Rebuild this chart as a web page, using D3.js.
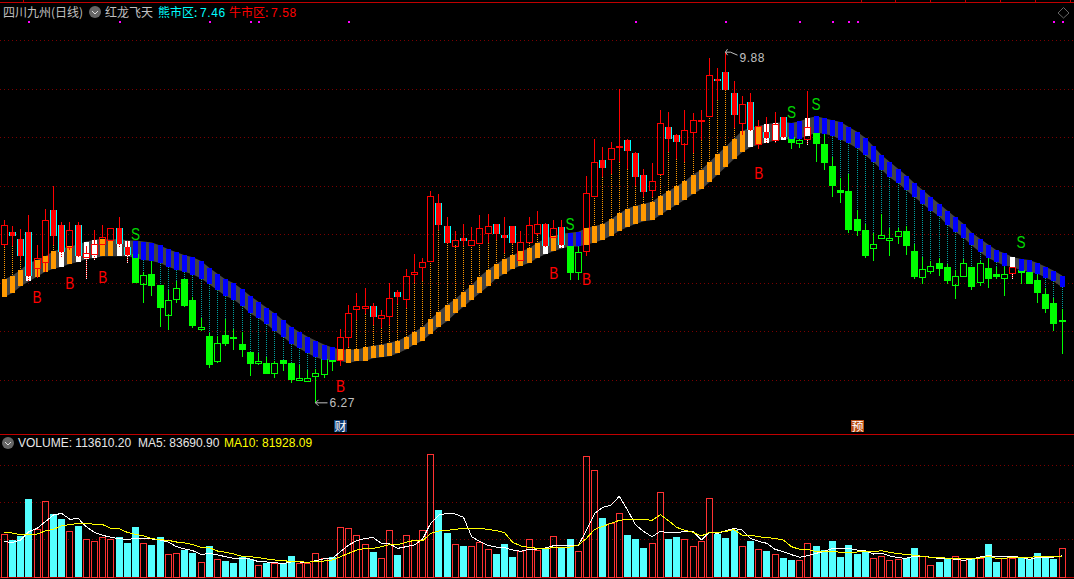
<!DOCTYPE html>
<html><head><meta charset="utf-8">
<style>html,body{margin:0;padding:0;background:#000;overflow:hidden}svg{display:block}text{font-family:"Liberation Sans",Arial,sans-serif}.cjk{font-family:"Noto Sans CJK SC",sans-serif}</style>
<script src="https://cdnjs.cloudflare.com/ajax/libs/d3/7.8.5/d3.min.js"></script>
</head><body><svg id="c" width="1074" height="579"></svg>
<script>
const stockName = "四川九州(日线)", indicatorName = "红龙飞天";
const open = [7.90,8.03,7.96,8.03,7.66,7.72,8.26,8.10,7.87,8.10,
7.77,7.80,7.91,7.95,8.07,7.87,7.80,7.50,7.60,7.48,
7.18,7.34,7.54,7.33,7.03,6.96,6.70,6.97,6.95,6.88,
6.79,6.68,6.68,6.58,6.71,6.68,6.51,6.50,6.55,6.57,
6.71,6.71,6.95,7.24,7.25,7.27,7.14,7.16,7.41,7.34,
7.60,7.67,7.73,8.33,8.09,7.89,7.97,7.90,7.92,8.02,
8.11,8.00,8.09,7.74,7.93,8.02,8.11,7.98,8.08,7.88,
7.61,7.83,8.40,8.77,8.78,8.90,8.98,8.84,8.62,8.46,
8.62,9.11,9.03,8.94,9.06,9.17,9.22,9.60,9.68,9.46,
9.15,9.37,8.93,9.06,8.98,9.21,9.01,8.95,8.99,9.05,
8.93,8.71,8.46,8.45,8.16,8.05,7.86,7.97,7.95,7.99,
8.04,7.83,7.57,7.63,7.71,7.67,7.49,7.58,7.67,7.51,
7.66,7.60,7.56,7.61,7.64,7.62,7.53,7.39,7.30,7.11];
const close = [8.10,7.99,7.78,7.58,7.76,8.15,7.99,7.82,8.05,7.78,
7.81,7.90,7.98,8.07,7.91,7.79,7.50,7.59,7.47,7.25,
7.33,7.45,7.27,7.06,7.05,6.66,6.89,6.88,6.93,6.81,
6.67,6.70,6.57,6.68,6.67,6.51,6.53,6.53,6.58,6.72,
6.70,6.95,7.20,7.27,7.27,7.15,7.17,7.35,7.36,7.58,
7.62,7.72,8.40,8.10,7.92,7.95,7.94,7.95,8.07,8.09,
8.01,7.97,7.92,7.93,8.10,8.11,7.88,8.07,7.90,7.61,
7.82,8.43,8.75,8.69,8.89,8.91,8.86,8.59,8.44,8.55,
9.15,8.99,8.96,9.08,9.18,9.18,9.64,9.58,9.49,9.23,
9.35,9.08,9.12,9.00,9.14,9.01,8.95,8.98,9.11,8.93,
8.74,8.50,8.43,8.05,8.04,7.78,7.90,8.00,7.97,8.04,
7.88,7.57,7.65,7.68,7.65,7.52,7.58,7.71,7.46,7.71,
7.55,7.57,7.60,7.67,7.61,7.49,7.40,7.24,7.08,7.12];
const high = [8.15,8.09,8.06,8.20,7.90,8.27,8.50,8.13,8.13,8.13,
7.88,8.05,8.10,8.07,8.18,7.94,7.80,7.62,7.73,7.48,
7.43,7.52,7.54,7.36,7.14,6.99,6.96,7.13,7.03,7.00,
6.79,6.78,6.74,6.70,6.71,6.68,6.66,6.61,6.62,6.75,
6.76,7.03,7.28,7.40,7.45,7.30,7.23,7.50,7.43,7.65,
7.80,7.76,8.45,8.42,8.18,8.04,8.11,8.08,8.20,8.21,
8.11,8.18,8.09,8.04,8.18,8.24,8.12,8.15,8.15,7.90,
7.87,8.61,8.99,8.90,8.96,9.50,8.99,8.85,8.68,8.74,
9.28,9.26,9.04,9.28,9.25,9.28,9.82,9.72,9.88,9.58,
9.43,9.46,9.18,9.21,9.26,9.21,9.01,8.99,9.48,9.05,
9.04,8.80,8.58,8.63,8.26,8.11,8.02,8.21,8.07,8.07,
8.09,7.91,7.77,7.73,7.76,7.70,7.64,7.75,7.67,7.73,
7.76,7.67,7.67,7.67,7.66,7.62,7.59,7.45,7.35,7.24];
const low = [7.87,7.88,7.74,7.52,7.56,7.62,7.89,7.76,7.84,7.76,
7.55,7.74,7.90,7.95,7.86,7.71,7.50,7.30,7.37,7.05,
7.02,7.30,7.26,7.04,7.01,6.63,6.68,6.86,6.81,6.74,
6.55,6.66,6.57,6.53,6.60,6.47,6.49,6.48,6.27,6.53,
6.60,6.65,6.85,7.12,7.18,7.07,7.04,7.07,7.29,7.25,
7.50,7.52,7.73,8.05,7.92,7.89,7.88,7.90,7.92,7.92,
7.95,7.81,7.91,7.74,7.92,8.00,7.87,7.97,7.86,7.53,
7.53,7.78,8.40,8.60,8.63,8.75,8.68,8.50,8.39,8.39,
8.62,8.85,8.78,8.75,8.84,8.98,9.22,9.39,9.49,9.10,
9.03,9.06,8.88,8.95,8.95,9.00,8.88,8.89,8.92,8.75,
8.67,8.39,8.33,8.02,7.99,7.76,7.73,7.97,7.78,7.91,
7.79,7.54,7.49,7.60,7.58,7.49,7.34,7.58,7.43,7.47,
7.45,7.55,7.37,7.55,7.49,7.49,7.30,7.20,7.01,6.77];
const bandTop = [7.54,7.58,7.64,7.71,7.74,7.78,7.83,7.86,7.88,7.90,
7.93,7.95,7.96,7.95,7.96,7.94,7.94,7.93,7.92,7.89,
7.85,7.82,7.79,7.77,7.73,7.66,7.60,7.54,7.50,7.44,
7.37,7.31,7.25,7.19,7.12,7.05,7.00,6.95,6.91,6.87,
6.84,6.82,6.82,6.82,6.84,6.86,6.87,6.89,6.91,6.95,
7.00,7.05,7.13,7.21,7.28,7.34,7.41,7.48,7.57,7.64,
7.70,7.75,7.79,7.83,7.86,7.92,7.96,7.99,8.01,8.02,
8.03,8.07,8.09,8.11,8.16,8.22,8.27,8.30,8.32,8.34,
8.40,8.45,8.50,8.55,8.62,8.67,8.75,8.83,8.91,8.99,
9.07,9.10,9.12,9.14,9.15,9.16,9.15,9.17,9.20,9.22,
9.20,9.18,9.16,9.11,9.06,9.00,8.91,8.82,8.75,8.68,
8.61,8.53,8.46,8.39,8.32,8.25,8.18,8.11,8.02,7.96,
7.90,7.84,7.81,7.77,7.75,7.74,7.71,7.67,7.63,7.58];
const bandBottom = [7.36,7.40,7.47,7.52,7.57,7.62,7.65,7.67,7.70,7.72,
7.75,7.76,7.78,7.78,7.78,7.78,7.76,7.74,7.73,7.71,
7.67,7.64,7.62,7.59,7.55,7.49,7.43,7.37,7.33,7.27,
7.19,7.14,7.08,7.01,6.95,6.88,6.83,6.78,6.74,6.71,
6.71,6.70,6.68,6.70,6.70,6.73,6.74,6.75,6.78,6.82,
6.87,6.91,6.98,7.05,7.11,7.19,7.26,7.33,7.40,7.47,
7.55,7.60,7.65,7.68,7.71,7.76,7.80,7.83,7.86,7.88,
7.88,7.90,7.92,7.95,7.99,8.04,8.08,8.11,8.14,8.15,
8.20,8.26,8.31,8.36,8.42,8.47,8.54,8.62,8.70,8.78,
8.85,8.90,8.93,8.95,8.97,8.98,8.99,8.99,9.02,9.05,
9.04,9.02,8.98,8.94,8.89,8.82,8.75,8.67,8.59,8.53,
8.46,8.39,8.32,8.25,8.19,8.10,8.03,7.97,7.89,7.82,
7.76,7.72,7.68,7.67,7.63,7.62,7.60,7.56,7.52,7.46];
// thousands of lots
const volume = [168.8,146.4,162.2,308.6,188.6,299.4,249.3,229.5,180.7,201.8,
149.0,141.1,157.0,150.4,158.3,134.5,197.9,133.2,126.6,158.3,
89.7,93.6,106.8,95.0,58.0,122.7,69.9,63.3,55.4,77.8,
69.9,46.2,55.4,54.1,54.1,83.1,56.7,54.1,93.6,73.9,
79.1,196.5,192.6,164.9,129.3,98.9,73.9,184.7,87.1,164.9,
146.4,184.7,485.4,265.1,174.1,129.3,122.7,121.3,139.8,109.5,
91.0,130.6,79.1,102.9,149.0,105.5,109.5,160.9,113.4,150.4,
101.6,477.5,422.1,233.5,212.4,251.9,166.2,150.4,114.8,133.2,
335.0,150.4,158.3,149.0,121.3,141.1,311.3,170.2,154.3,186.0,
121.3,142.5,109.5,102.9,89.7,75.2,67.3,66.0,133.2,122.7,
106.8,142.5,79.1,126.6,91.0,102.9,73.9,81.8,66.0,71.2,
75.2,114.8,81.8,46.2,59.4,71.2,81.8,67.3,71.2,73.9,
130.6,59.4,73.9,76.5,79.1,71.2,95.0,77.8,71.2,113.6102];
const ma5 = [139.8,137.2,146.4,179.4,192.6,218.9,245.3,251.9,228.2,232.1,
199.2,176.7,164.9,157.0,151.7,149.0,151.7,153.0,150.4,146.4,
138.5,120.0,110.8,104.2,88.4,93.6,87.1,80.5,73.9,73.9,
71.2,60.7,59.4,56.7,52.8,59.4,59.4,56.7,64.6,72.5,
73.9,100.2,126.6,143.8,153.0,155.6,133.2,130.6,113.4,120.0,
126.6,149.0,212.4,245.3,251.9,249.3,236.1,159.6,139.8,125.3,
118.7,116.1,106.8,101.6,109.5,110.8,114.8,124.0,125.3,126.6,
124.0,186.0,251.9,275.7,284.9,319.2,265.1,205.8,179.4,159.6,
180.7,175.4,175.4,180.7,179.4,146.4,176.7,172.8,183.3,192.6,
186.0,153.0,141.1,133.2,109.5,100.2,88.4,77.8,84.4,93.6,
101.6,113.4,113.4,113.4,106.8,104.2,91.0,93.6,83.1,76.5,
73.9,83.1,83.1,77.8,73.9,73.9,69.9,66.0,71.2,79.1,
84.4,81.8,81.8,81.8,77.8,69.9,77.8,77.8,79.1,83.6909];
const ma10 = [176.7,174.1,167.5,167.5,170.2,182.0,188.6,203.1,207.1,212.4,
212.4,208.4,207.1,192.6,191.3,176.7,168.8,162.2,151.7,147.7,
145.1,138.5,134.5,127.9,117.4,116.1,102.9,97.6,91.0,81.8,
80.5,76.5,71.2,67.3,66.0,59.4,60.7,58.0,62.0,63.3,
67.3,80.5,93.6,106.8,113.4,113.4,120.0,127.9,127.9,137.2,
145.1,142.5,172.8,182.0,184.7,188.6,192.6,189.9,192.6,188.6,
183.3,175.4,137.2,122.7,117.4,113.4,112.1,117.4,116.1,118.7,
126.6,153.0,188.6,200.5,212.4,224.2,228.2,228.2,228.2,224.2,
246.7,222.9,196.5,184.7,176.7,162.2,176.7,176.7,180.7,187.3,
164.9,164.9,159.6,155.6,153.0,146.4,120.0,109.5,109.5,100.2,
100.2,101.6,97.6,97.6,98.9,100.2,100.2,104.2,97.6,92.3,
89.7,85.7,81.8,77.8,77.8,73.9,73.9,72.5,72.5,75.2,
81.8,73.9,73.9,77.8,77.8,77.8,80.5,80.5,80.5,81.92809];
const bearRanges = [[16,40],[69,70],[96,97],[99,122],[124,129]];
const whiteBars = [3,7,9,10,11,14,15,66,68,91,93,94,95,98,123];
const buySignals = [4,8,12,41,67,71,92], buyLevels = [7.36,7.50,7.57,6.44,7.61,7.55,8.64];
const sellSignals = [16,69,96,99,124], sellLevels = [8.01,8.11,9.27,9.35,7.93];
const eventDots = [3,14,25,30,31,42,77,88,97,101,103,104,128,129];
const notices = [{i:41,t:"财",c:"#0f3c73"},{i:104,t:"预",c:"#b84a10"}];
const priceTicks = [6.5,7,7.5,8,8.5,9,9.5,10], volumeTicks = [149,296,442];
const bearLabel = "熊市区", bullLabel = "牛市区";
const topTicks = [861,895,930,965,1000,1035,1070];

const n = open.length, idx = d3.range(n);
const isBear = i => bearRanges.some(r => i >= r[0] && i <= r[1]);
const x = d3.scaleLinear().domain([0,129]).range([4.3,1062.1]);
const y = d3.scaleLinear().domain([6.5,10]).range([380.5,40.5]);
const yv = d3.scaleLinear().domain([0,500]).range([577,577-500/3.958]);
const cx = i => Math.floor(x(i)) + 0.5;
const svg = d3.select("#c");
const RED = "#ff0000", GREEN = "#00ff00", CYAN = "#00ffff";

svg.append("rect").attr("width",1074).attr("height",579).attr("fill","#000");

// frame
const frame = svg.append("g").attr("stroke","#c00000").attr("shape-rendering","crispEdges");
frame.append("line").attr("x1",0).attr("x2",1074).attr("y1",2.5).attr("y2",2.5);
frame.append("line").attr("x1",0).attr("x2",1074).attr("y1",434.5).attr("y2",434.5);
frame.append("line").attr("x1",0).attr("x2",1074).attr("y1",577.5).attr("y2",577.5);
frame.selectAll(".t").data([23].concat(topTicks)).join("line").attr("x1",d=>d+.5).attr("x2",d=>d+.5).attr("y1",0).attr("y2",2);

// grid
const gridOf = (vals,sc) => svg.append("g").selectAll("line").data(vals).join("line")
  .attr("x1",0).attr("x2",1074).attr("y1",d=>Math.floor(sc(d))+.5).attr("y2",d=>Math.floor(sc(d))+.5)
  .attr("stroke","#7a0000").attr("stroke-dasharray","1,3").attr("shape-rendering","crispEdges");
gridOf(priceTicks,y); gridOf(volumeTicks,yv);

// grey ribbon
svg.append("path").datum(idx).attr("fill","#444444")
  .attr("d",d3.area().x(i=>x(i)).y0(i=>y(bandBottom[i])).y1(i=>y(bandTop[i])));

// dotted links between candles and ribbon
const links = svg.append("g").attr("stroke-dasharray","1,1").attr("shape-rendering","crispEdges");
links.selectAll(".up").data(idx.filter(i=>!isBear(i) && low[i]>bandTop[i])).join("line")
  .attr("x1",cx).attr("x2",cx).attr("y1",i=>y(low[i])).attr("y2",i=>y(bandTop[i])).attr("stroke","#ff9900");
links.selectAll(".dn").data(idx.filter(i=>isBear(i) && high[i]<bandBottom[i])).join("line")
  .attr("x1",cx).attr("x2",cx).attr("y1",i=>y(bandBottom[i])).attr("y2",i=>y(high[i])).attr("stroke","#00a0a0");

function candles(list){
  const g = svg.append("g").attr("shape-rendering","crispEdges");
  const col = i => isBear(i) ? GREEN : RED;
  const top = i => y(Math.max(open[i],close[i])), bot = i => y(Math.min(open[i],close[i]));
  g.selectAll(".hi").data(list).join("line").attr("x1",cx).attr("x2",cx).attr("y1",i=>y(high[i])).attr("y2",top).attr("stroke",col);
  g.selectAll(".lo").data(list).join("line").attr("x1",cx).attr("x2",cx).attr("y1",bot).attr("y2",i=>y(low[i])).attr("stroke",col);
  const ups = list.filter(i=>close[i]>=open[i] && (bot(i)-top(i)>=1.5));
  const flats = list.filter(i=>bot(i)-top(i)<1.5);
  const downs = list.filter(i=>close[i]<open[i] && (bot(i)-top(i)>=1.5));
  g.selectAll(".u").data(ups).join("rect").attr("x",i=>cx(i)-3).attr("width",6)
    .attr("y",i=>Math.round(top(i))+.5).attr("height",i=>Math.max(1,Math.round(bot(i)-top(i))))
    .attr("fill","none").attr("stroke",col);
  g.selectAll(".d").data(downs).join("rect").attr("x",i=>cx(i)-3.5).attr("width",7)
    .attr("y",top).attr("height",i=>bot(i)-top(i)).attr("fill",i=>isBear(i)?GREEN:CYAN);
  g.selectAll(".dc").data(downs.filter(i=>!isBear(i))).join("rect").attr("x",i=>cx(i)-2.5).attr("width",5)
    .attr("y",top).attr("height",i=>bot(i)-top(i)).attr("fill",RED);
  g.selectAll(".f").data(flats).join("rect").attr("x",i=>cx(i)-3.5).attr("width",7)
    .attr("y",i=>top(i)-.5).attr("height",2).attr("fill",col);
}
// green candles go under the ribbon sticks
candles(idx.filter(isBear));
// ribbon sticks
svg.append("g").attr("shape-rendering","crispEdges").selectAll("rect").data(idx).join("rect")
  .attr("x",i=>cx(i)-2.5).attr("width",5).attr("y",i=>y(bandTop[i])).attr("height",i=>y(bandBottom[i])-y(bandTop[i]))
  .attr("fill",i=>whiteBars.includes(i)?"#ffffff":isBear(i)?"#0000ff":"#ff9900");
// red candles above them
candles(idx.filter(i=>!isBear(i)));
// white stitches on lower shadows of white-stick days
svg.append("g").attr("shape-rendering","crispEdges").selectAll("line").data(whiteBars).join("line")
  .attr("x1",cx).attr("x2",cx).attr("y1",i=>y(Math.min(open[i],close[i]))+1).attr("y2",i=>y(low[i]))
  .attr("stroke","#fff").attr("stroke-dasharray","1,1");

// B / S
const sig = (ids,lv,c,t) => svg.append("g").selectAll("text").data(ids).join("text")
  .attr("transform",(d,k)=>`translate(${x(d)},${y(lv[k])}) scale(0.8,1)`)
  .attr("dy","0.36em").attr("text-anchor","middle")
  .attr("font-size",17).attr("fill",c).text(t);
sig(buySignals,buyLevels,"#ff0000","B");
sig(sellSignals,sellLevels,"#00d800","S");

// event dots
svg.append("g").attr("shape-rendering","crispEdges").selectAll("rect").data(eventDots).join("rect")
  .attr("x",i=>cx(i)-1).attr("y",21).attr("width",2).attr("height",2).attr("fill","#ff00ff");

// extreme price labels
const iMax = high.indexOf(d3.max(high)), iMin = low.indexOf(d3.min(low));
const ann = svg.append("g").attr("fill","#c0c0c0").attr("font-size",12);
const hx = cx(iMax), hy = y(high[iMax]), lx = cx(iMin), ly = y(low[iMin]);
ann.append("path").attr("fill","none").attr("stroke","#c0c0c0")
  .attr("d",`M${hx+2},${hy-3}L${hx},${hy}L${hx+2},${hy+3}M${hx},${hy}L${hx+5},${hy}L${hx+12},${hy+3}`);
ann.append("text").attr("x",hx+14).attr("y",hy+9.5).attr("letter-spacing",.5).text(d3.format(".2f")(high[iMax]));
ann.append("path").attr("fill","none").attr("stroke","#c0c0c0")
  .attr("d",`M${lx+3},${ly-3}L${lx},${ly}L${lx+3},${ly+3}M${lx},${ly}L${lx+12},${ly}`);
ann.append("text").attr("x",lx+14).attr("y",ly+4.5).attr("letter-spacing",.5).text(d3.format(".2f")(low[iMin]));

// notice boxes
const nb = svg.append("g").selectAll("g").data(notices).join("g").attr("transform",d=>`translate(${cx(d.i)},0)`);
nb.append("rect").attr("x",-6.5).attr("y",420).attr("width",13).attr("height",12).attr("fill",d=>d.c);
nb.append("text").attr("class","cjk").attr("y",430.5).attr("text-anchor","middle").attr("font-size",12).attr("fill","#fff").text(d=>d.t);

// volume
const vg = svg.append("g").attr("shape-rendering","crispEdges");
const isUp = i => close[i]>=open[i];
vg.selectAll(".r").data(idx.filter(isUp)).join("rect").attr("x",i=>cx(i)-3).attr("width",6)
  .attr("y",i=>Math.round(yv(volume[i]))+.5).attr("height",i=>577-Math.round(yv(volume[i])))
  .attr("fill","none").attr("stroke","#ff3232");
vg.selectAll(".c").data(idx.filter(i=>!isUp(i))).join("rect").attr("x",i=>cx(i)-3.5).attr("width",7)
  .attr("y",i=>yv(volume[i])).attr("height",i=>577-yv(volume[i])).attr("fill","#54ffff");
const vline = d3.line().x(i=>x(i));
svg.append("path").datum(idx).attr("fill","none").attr("stroke","#ffffff").attr("shape-rendering","crispEdges")
  .attr("d",vline.y(i=>yv(ma5[i])));
svg.append("path").datum(idx).attr("fill","none").attr("stroke","#ffff00").attr("shape-rendering","crispEdges")
  .attr("d",vline.y(i=>yv(ma10[i])));

// header
const txt = (xp,yp,s,c,cls,fs,ls) => svg.append("text").attr("x",xp).attr("y",yp).attr("fill",c)
  .attr("class",cls||null).attr("font-size",fs||12).attr("letter-spacing",ls||0).text(s);
const icon = (cxp,cyp) => {
  svg.append("circle").attr("cx",cxp).attr("cy",cyp).attr("r",6).attr("fill","#666");
  svg.append("path").attr("d",`M${cxp-3},${cyp-1}L${cxp},${cyp+2}L${cxp+3},${cyp-1}`).attr("fill","none").attr("stroke","#ddd");
};
txt(3,17,stockName,"#c0c0c0","cjk",12);
icon(95,12);
txt(105,17,indicatorName,"#c0c0c0","cjk",12);
txt(158,17,bearLabel+":",CYAN,"cjk",12);
txt(200,17,d3.format(".2f")(bandBottom[n-1]),CYAN,null,12,.6);
txt(229,17,bullLabel+":",RED,"cjk",12);
txt(271,17,d3.format(".2f")(bandTop[n-1]),RED,null,12,.6);
svg.append("path").attr("d","M1063.5,7.5L1069,13L1063.5,18L1058,13Z").attr("fill","none").attr("stroke","#666");

const f2 = d3.format(".2f"), lastK = a => f2(a[n-1]*1000);
icon(8,443);
txt(18,447,"VOLUME: "+lastK(volume),"#e8e8e8",null,12,0);
txt(138,447,"MA5: "+lastK(ma5),"#e8e8e8",null,12,0);
txt(224,447,"MA10: "+lastK(ma10),"#ffff00",null,12,0);
</script></body></html>
